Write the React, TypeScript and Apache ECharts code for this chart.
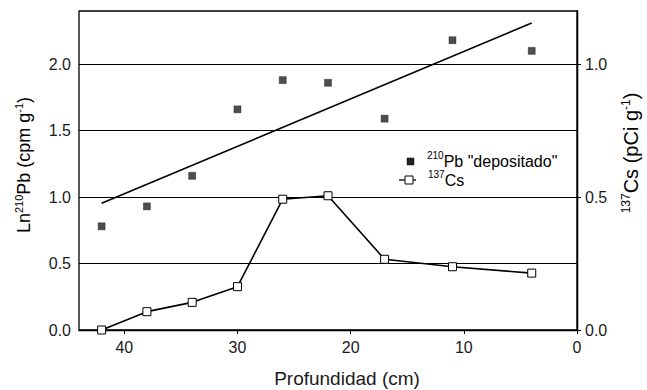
import React, { useEffect, useRef } from "react";
import * as echarts from "echarts";

const depth = [42, 38, 34, 30, 26, 22, 17, 11, 4];
const pbLn = [0.78, 0.93, 1.16, 1.66, 1.88, 1.86, 1.59, 2.18, 2.1];
const cs137 = [0.0, 0.069, 0.104, 0.163, 0.492, 0.505, 0.266, 0.238, 0.214];
const fitDepth = [42, 4];
const fitLn = [0.954, 2.31];
const leftTicks = [0, 0.5, 1, 1.5, 2];
const rightTicks = [0, 0.5, 1];
const xTicks = [0, 10, 20, 30, 40];

const FONT = "Liberation Sans";
const INK = "#1a1a1a";

export default function App() {
  const ref = useRef<HTMLDivElement>(null);
  useEffect(() => {
    if (!ref.current) return;
    const chart = echarts.init(ref.current, null, { renderer: "svg" });
    const sup = { fontSize: 11, fontFamily: FONT, color: INK, verticalAlign: "top", lineHeight: 22 };
    const big = (fs: number) => ({ fontSize: fs, fontFamily: FONT, color: INK, lineHeight: 22 });
    const halfFmt = (v: number) => (Math.abs(v * 2 - Math.round(v * 2)) < 1e-6 ? v.toFixed(1) : "");
    chart.setOption({
      animation: false,
      backgroundColor: "#fff",
      textStyle: { fontFamily: FONT, color: INK },
      grid: {
        left: 79,
        top: 11,
        right: 70,
        bottom: 60,
        show: true,
        borderColor: "#000",
        borderWidth: 1.3,
        backgroundColor: "transparent",
      },
      xAxis: {
        type: "value",
        inverse: true,
        min: 0,
        max: 44,
        interval: 10,
        axisLine: { show: true, lineStyle: { color: "#000", width: 1.3 } },
        axisTick: { show: true, length: 4, inside: false, customValues: xTicks, lineStyle: { color: "#000" } },
        axisLabel: {
          customValues: xTicks,
          margin: 9,
          fontSize: 16,
          fontFamily: FONT,
          color: INK,
          formatter: (v: number) => (v % 10 === 0 ? String(v) : ""),
        },
        splitLine: { show: false },
      },
      yAxis: [
        {
          type: "value",
          min: 0,
          max: 2.4,
          interval: 0.5,
          position: "left",
          axisLine: { show: true, lineStyle: { color: "#000", width: 1.3 } },
          axisTick: { show: true, length: 4, customValues: leftTicks, lineStyle: { color: "#000" } },
          axisLabel: {
            customValues: leftTicks,
            margin: 8,
            fontSize: 16,
            fontFamily: FONT,
            color: INK,
            formatter: halfFmt,
          },
          splitLine: { show: true, lineStyle: { color: "#000", width: 1 } },
        },
        {
          type: "value",
          min: 0,
          max: 1.2,
          interval: 0.5,
          position: "right",
          axisLine: { show: true, lineStyle: { color: "#000", width: 1.3 } },
          axisTick: { show: true, length: 4, customValues: rightTicks, lineStyle: { color: "#000" } },
          axisLabel: {
            customValues: rightTicks,
            margin: 8,
            fontSize: 16,
            fontFamily: FONT,
            color: INK,
            formatter: halfFmt,
          },
          splitLine: { show: false },
        },
      ],
      series: [
        {
          name: "fit",
          type: "line",
          yAxisIndex: 0,
          data: fitDepth.map((d, i) => [d, fitLn[i]]),
          symbol: "none",
          lineStyle: { color: "#000", width: 1.6 },
          z: 3,
        },
        {
          name: "210Pb",
          type: "scatter",
          yAxisIndex: 0,
          data: depth.map((d, i) => [d, pbLn[i]]),
          symbol: "rect",
          symbolSize: 7,
          itemStyle: { color: "#222", borderColor: "#111", borderWidth: 0.5 },
          z: 4,
        },
        {
          name: "137Cs",
          type: "line",
          yAxisIndex: 1,
          data: depth.map((d, i) => [d, cs137[i]]),
          symbol: "rect",
          symbolSize: 8,
          showAllSymbol: true,
          lineStyle: { color: "#000", width: 1.6 },
          itemStyle: { color: "#fff", borderColor: "#000", borderWidth: 1 },
          z: 5,
        },
      ],
      graphic: [
        {
          type: "text",
          x: 24,
          y: 165,
          rotation: Math.PI / 2,
          style: {
            text: "{a|Ln}{s|210}{a|Pb (cpm g}{s|-1}{a|)}",
            align: "center",
            verticalAlign: "middle",
            rich: { a: big(18), s: sup },
          },
        },
        {
          type: "text",
          x: 631,
          y: 153,
          rotation: Math.PI / 2,
          style: {
            text: "{s|137}{a|Cs (pCi g}{s|-1}{a|)}",
            align: "center",
            verticalAlign: "middle",
            rich: { a: big(20), s: { ...sup, fontSize: 12 } },
          },
        },
        {
          type: "text",
          x: 347,
          y: 378,
          style: {
            text: "Profundidad (cm)",
            align: "center",
            verticalAlign: "middle",
            fontSize: 19,
            fontFamily: FONT,
            fill: INK,
          },
        },
        {
          type: "rect",
          shape: { x: 407, y: 158, width: 7, height: 7 },
          style: { fill: "#222", stroke: "#111", lineWidth: 0.5 },
        },
        {
          type: "text",
          x: 427,
          y: 161,
          style: {
            text: '{s|210}{a|Pb "depositado"}',
            align: "left",
            verticalAlign: "middle",
            rich: { a: big(16), s: { ...sup, fontSize: 10 } },
          },
        },
        {
          type: "line",
          shape: { x1: 399, y1: 180, x2: 416, y2: 180 },
          style: { stroke: "#000", lineWidth: 1.3 },
        },
        {
          type: "rect",
          shape: { x: 405, y: 176, width: 8, height: 8 },
          style: { fill: "#fff", stroke: "#000", lineWidth: 1 },
        },
        {
          type: "text",
          x: 428,
          y: 180,
          style: {
            text: "{s|137}{a|Cs}",
            align: "left",
            verticalAlign: "middle",
            rich: { a: big(16), s: { ...sup, fontSize: 10 } },
          },
        },
      ],
    });
    return () => chart.dispose();
  }, []);
  return <div ref={ref} style={{ position: "absolute", left: 0, top: 0, width: 647, height: 390 }} />;
}
